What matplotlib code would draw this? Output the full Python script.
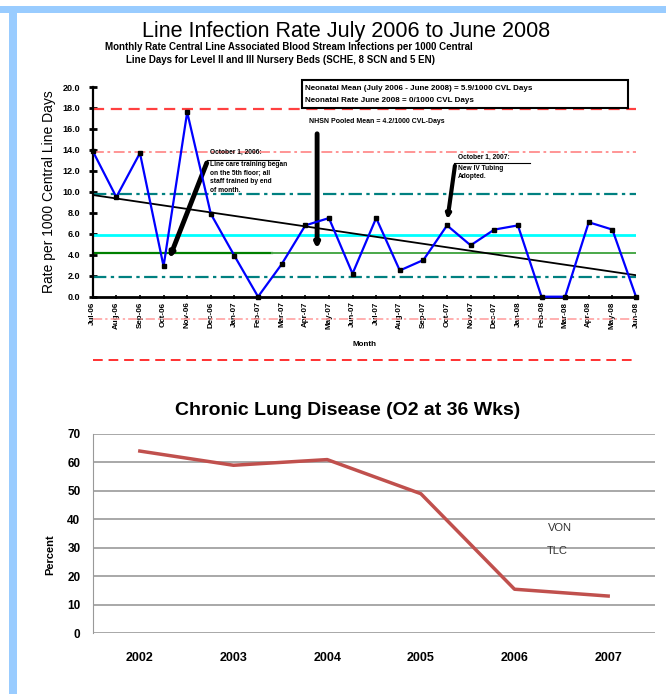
import numpy as np
import matplotlib.pyplot as plt
from matplotlib.patches import Rectangle

# ---- data: top chart (monthly CLABSI rate) ----
months = ['Jul-06', 'Aug-06', 'Sep-06', 'Oct-06', 'Nov-06', 'Dec-06',
          'Jan-07', 'Feb-07', 'Mar-07', 'Apr-07', 'May-07', 'Jun-07',
          'Jul-07', 'Aug-07', 'Sep-07', 'Oct-07', 'Nov-07', 'Dec-07',
          'Jan-08', 'Feb-08', 'Mar-08', 'Apr-08', 'May-08', 'Jun-08']
rates = [13.9, 9.5, 13.7, 2.9, 17.6, 7.9,
         3.9, 0.0, 3.1, 6.8, 7.5, 2.2,
         7.5, 2.5, 3.5, 6.8, 4.9, 6.4,
         6.8, 0.0, 0.0, 7.1, 6.4, 0.0]
trend_ends = [9.7, 2.05]
ucl, upper_2sd, upper_1sd = 17.9, 13.8, 9.8
mean_rate = 5.9
nhsn_mean = 4.2
lower_1sd, lower_2sd, lcl = 1.9, -2.1, -6.0

# ---- data: bottom chart (chronic lung disease) ----
years = ['2002', '2003', '2004', '2005', '2006', '2007']
cld_pct = [64, 59, 61, 49, 15.4, 13]

W, H = 666, 694
def fx(px):
    return px / W
def fy(py):
    return 1 - py / H

narrow = ['Liberation Sans Narrow', 'Liberation Sans', 'DejaVu Sans']
arial = ['Liberation Sans', 'DejaVu Sans']

fig = plt.figure(figsize=(W / 100, H / 100), dpi=100)
fig.patch.set_facecolor('white')

# light blue frame at top and left
fig.patches.append(Rectangle((0, fy(13)), 1, 7 / H, transform=fig.transFigure,
                             fc='#99ccff', ec='none'))
fig.patches.append(Rectangle((fx(9), 0), 8 / W, fy(6), transform=fig.transFigure,
                             fc='#99ccff', ec='none'))

# ================= top chart =================
ax = fig.add_axes([fx(92.7), fy(296.7), (636 - 92.7) / W, (296.7 - 87) / H])
x = np.arange(len(months))

ax.axhline(ucl, color='#ff4040', ls=(0, (5, 3)), lw=1.6)
ax.axhline(upper_2sd, color='#ff8c8c', ls=(0, (6, 2, 1.5, 2)), lw=1.3)
ax.axhline(upper_1sd, color='#008080', ls=(0, (6, 2, 1.5, 2)), lw=1.6)
ax.axhline(mean_rate, color='#00ffff', lw=2)
ax.plot([0, 7.58], [nhsn_mean, nhsn_mean], color='#008000', lw=1.6)
ax.plot([7.58, 23], [nhsn_mean, nhsn_mean], color='#4aa84a', lw=1.4)
ax.axhline(lower_1sd, color='#008080', ls=(0, (6, 2, 1.5, 2)), lw=1.6)
ax.axhline(lower_2sd, color='#ff9a9a', ls=(0, (6, 2, 1.5, 2)), lw=1.1, clip_on=False)
ax.axhline(lcl, color='#ff3030', ls=(0, (5, 3)), lw=1.4, clip_on=False)

ax.plot([0, 23], trend_ends, color='black', lw=1.3)
ax.plot(x, rates, color='#0000ff', lw=1.6, marker='s', ms=3,
        mfc='black', mec='black', clip_on=False, zorder=5)

ax.set_xlim(0, 23)
ax.set_ylim(0, 20)
ax.set_yticks(np.arange(0, 21, 2))
ax.set_yticklabels([f'{v:.1f}' for v in np.arange(0, 21, 2)],
                   fontsize=6.5, fontweight='bold', family=narrow)
ax.set_xticks(x)
ax.set_xticklabels(months, rotation=90, fontsize=5.8, fontweight='bold', family=narrow)
ax.tick_params(axis='y', direction='inout', length=6, width=2, pad=6)
ax.tick_params(axis='x', direction='inout', length=3, width=1.2, pad=2)
for s in ['top', 'right']:
    ax.spines[s].set_visible(False)
ax.spines['left'].set_linewidth(1.6)
ax.spines['bottom'].set_linewidth(2)
ax.patch.set_alpha(0)

ax.set_ylabel('Rate per 1000 Central Line Days', fontsize=10, family=arial, labelpad=5)
ax.set_xlabel('Month', fontsize=5.8, fontweight='bold', family=narrow, labelpad=9)

# annotations
ax.annotate('', xy=(9.5, 4.3), xytext=(9.5, 15.8),
            arrowprops=dict(arrowstyle='-|>', lw=3.5, color='black', mutation_scale=6))
ax.text(9.15, 16.4, 'NHSN Pooled Mean = 4.2/1000 CVL-Days', fontsize=5,
        fontweight='bold', family=narrow, va='bottom')

ax.annotate('', xy=(3.2, 3.4), xytext=(4.87, 13.0),
            arrowprops=dict(arrowstyle='-|>', lw=3.5, color='black', mutation_scale=6))
ax.plot([4.85, 7.9], [13.0, 13.0], color='black', lw=0.8)
ax.text(4.95, 13.75, 'October 1, 2006:', fontsize=4.8, fontweight='bold',
        family=narrow, va='center')
ax.text(4.95, 12.95, 'Line care training began\non the 5th floor; all\n'
        'staff trained by end\nof month.', fontsize=4.8, fontweight='bold',
        family=narrow, va='top', linespacing=1.35)

ax.annotate('', xy=(15.0, 7.1), xytext=(15.35, 12.75),
            arrowprops=dict(arrowstyle='-|>', lw=3, color='black', mutation_scale=6))
ax.plot([15.3, 18.5], [12.75, 12.75], color='black', lw=0.8)
ax.text(15.45, 13.3, 'October 1, 2007:', fontsize=4.8, fontweight='bold',
        family=narrow, va='center')
ax.text(15.45, 12.6, 'New IV Tubing\nAdopted.', fontsize=4.8, fontweight='bold',
        family=narrow, va='top', linespacing=1.35)

# legend-like box
fig.patches.append(Rectangle((fx(302), fy(108)), (628 - 302) / W, 28 / H,
                             transform=fig.transFigure, fc='white', ec='black', lw=1.5))
fig.text(fx(305), fy(88), 'Neonatal Mean (July 2006 - June 2008) = 5.9/1000 CVL Days',
         fontsize=5.8, fontweight='bold', family=narrow, va='center')
fig.text(fx(305), fy(100), 'Neonatal Rate June 2008 = 0/1000 CVL Days',
         fontsize=5.8, fontweight='bold', family=narrow, va='center')

# titles
fig.text(fx(346), fy(31), 'Line Infection Rate July 2006 to June 2008',
         fontsize=15.5, family=arial, ha='center', va='center')
fig.text(fx(289), fy(47), 'Monthly Rate Central Line Associated Blood Stream Infections per 1000 Central',
         fontsize=7, fontweight='bold', family=narrow, ha='center', va='center')
fig.text(fx(281), fy(60), 'Line Days for Level II and III Nursery Beds (SCHE, 8 SCN and 5 EN)',
         fontsize=7, fontweight='bold', family=narrow, ha='center', va='center')

# ================= bottom chart =================
ax2 = fig.add_axes([fx(93), fy(633), (655 - 93) / W, (633 - 434) / H])
xc = np.arange(len(years))
ax2.plot(xc, cld_pct, color='#c0504d', lw=2.5, zorder=3)
ax2.set_xlim(-0.5, len(years) - 0.5)
ax2.set_ylim(0, 70)
ax2.set_yticks(np.arange(0, 71, 10))
ax2.set_yticklabels([str(v) for v in range(0, 71, 10)], fontsize=8.5,
                    fontweight='heavy', family=arial)
ax2.set_xticks(xc)
ax2.set_xticklabels(years, fontsize=9, fontweight='heavy', family=arial)
ax2.tick_params(axis='both', length=0)
ax2.tick_params(axis='y', pad=9)
ax2.tick_params(axis='x', pad=14)
ax2.yaxis.grid(True, color='#999999', lw=1.2)
ax2.set_axisbelow(True)
for s in ['top', 'right', 'bottom']:
    ax2.spines[s].set_visible(False)
ax2.spines['left'].set_color('#999999')
fig.text(fx(348), fy(411), 'Chronic Lung Disease (O2 at 36 Wks)', fontsize=14,
         fontweight='heavy', family=arial, ha='center', va='center')
fig.text(fx(50), fy(555), 'Percent', rotation=90, fontsize=8,
         fontweight='heavy', family=arial, ha='center', va='center')
fig.text(fx(560), fy(528), 'VON', fontsize=8, family=arial, color='#333333',
         ha='center', va='center')
fig.text(fx(557), fy(551), 'TLC', fontsize=8, family=arial, color='#333333',
         ha='center', va='center')

fig.savefig('out.png', dpi=100)
